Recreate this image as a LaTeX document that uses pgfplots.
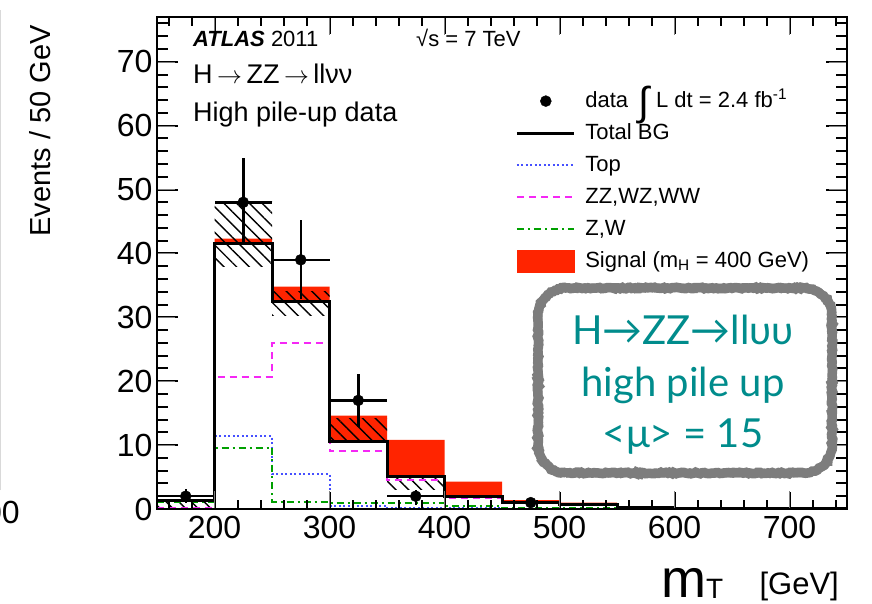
\documentclass[border=0pt]{standalone}
\usepackage{pgfplots}
\pgfplotsset{compat=1.18}
\usepackage{fontspec}
\setmainfont{Liberation Sans}
\newfontfamily\boxfont{Lato}
\usetikzlibrary{patterns.meta,decorations.pathmorphing}
\definecolor{sigred}{RGB}{255,36,0}
\definecolor{topblue}{RGB}{70,80,255}
\definecolor{dibmag}{RGB}{245,40,245}
\definecolor{zwgreen}{RGB}{0,160,0}
\definecolor{tealtxt}{RGB}{0,140,140}
\definecolor{boxgray}{RGB}{125,125,125}
\pgfplotsset{tickst/.style={black, line width=2pt, mark=none, forget plot}}
\newcommand{\arr}{\,{\fontsize{30}{30}\selectfont$\rightarrow$}\,}
\begin{document}
\begin{tikzpicture}
\path[use as bounding box] (0pt,0pt) rectangle (872pt,603pt);
\draw[gray!30, line width=1pt] (0.5pt,113pt) -- (0.5pt,593pt);
\node[anchor=base east, inner sep=0pt, font=\fontsize{32}{36}\selectfont] at (20pt,80pt) {00};
\begin{axis}[
  at={(157pt,94pt)}, anchor=south west,
  scale only axis, width=690pt, height=492pt,
  xmin=150, xmax=750, ymin=0, ymax=77,
  xtick={200,300,...,700},
  ytick={0,10,...,70},
  tick align=inside,
  axis on top,
  major tick length=18pt, minor tick length=9pt,
  axis line style={line width=2pt},
  tick label style={font=\fontsize{32}{36}\selectfont},
  /pgf/number format/assume math mode=true,
  xticklabel style={yshift=-4pt},
  yticklabel style={xshift=-1pt},
  legend style={draw=none, fill=none, at={(axis description cs:0.519,0.862)}, anchor=north west,
    font=\fontsize{22}{26}\selectfont, row sep=0pt, column sep=8pt, inner sep=0pt,
    nodes={inner sep=2pt, text height=20pt, text depth=8pt}},
  legend cell align=left,
  legend image code/.code={\draw[#1] (0pt,0pt) -- (57pt,0pt);},
]
\addlegendimage{black, legend image code/.code={\fill[black] (29pt,0pt) circle (5.5pt);}}
\addlegendentry{data\hspace{10pt}{\fontsize{40}{40}\selectfont\raisebox{-8pt}{∫}}\hspace{7pt}L dt = 2.4 fb\textsuperscript{-1}}
\addlegendimage{black, line width=3pt}
\addlegendentry{Total BG}
\addlegendimage{topblue, line width=2pt, dash pattern=on 2pt off 2.5pt}
\addlegendentry{Top}
\addlegendimage{dibmag, line width=2pt, dash pattern=on 7pt off 5pt}
\addlegendentry{ZZ,WZ,WW}
\addlegendimage{zwgreen, line width=2pt, dash pattern=on 7pt off 4pt on 2pt off 4pt}
\addlegendentry{Z,W}
\addlegendimage{sigred, legend image code/.code={\fill[sigred] (0pt,-11pt) rectangle (57pt,11pt);}}
\addlegendentry{Signal (m\textsubscript{H} = 400 GeV)}

% total BG + signal (red), then total BG area in white
\addplot[const plot, fill=sigred, draw=none, forget plot] coordinates {
 (150,1.3)(200,42.3)(250,34.8)(300,14.6)(350,10.8)(400,4.3)(450,1.4)(500,1.0)(550,0.35)(600,0.2)(650,0.3)(700,0.2)(750,0.2)} \closedcycle;
\addplot[const plot, fill=white, draw=none, forget plot] coordinates {
 (150,1.3)(200,41.5)(250,32.5)(300,10.6)(350,5.05)(400,1.9)(450,1.0)(500,0.7)(550,0.3)(600,0.15)(650,0.15)(700,0.1)(750,0.1)} \closedcycle;
% BG uncertainty (hatched)
\addplot[draw=none, pattern={Lines[angle=-45,distance=9pt,line width=1.4pt]}, forget plot] coordinates {(150,0)(200,0)(200,1.3)(150,1.3)};
\addplot[draw=none, pattern={Lines[angle=-45,distance=9pt,line width=1.4pt]}, forget plot] coordinates {(200,37.9)(250,37.9)(250,48.1)(200,48.1)};
\addplot[draw=none, pattern={Lines[angle=-45,distance=9pt,line width=1.4pt]}, forget plot] coordinates {(250,30.3)(300,30.3)(300,34.0)(250,34.0)};
\addplot[draw=none, pattern={Lines[angle=-45,distance=9pt,line width=1.4pt]}, forget plot] coordinates {(300,10.6)(350,10.6)(350,14.2)(300,14.2)};
\addplot[draw=none, pattern={Lines[angle=-45,distance=9pt,line width=1.4pt]}, forget plot] coordinates {(350,3.0)(400,3.0)(400,5.3)(350,5.3)};
% components
\addplot[const plot, topblue, line width=2pt, dash pattern=on 2pt off 2.5pt, forget plot] coordinates {
 (150,0.05)(200,11.4)(250,5.5)(300,0.5)(350,0.2)(400,0.1)(450,0.05)(500,0.05)(550,0.02)(600,0.02)(650,0.02)(700,0.02)(750,0.02)};
\addplot[const plot, dibmag, line width=2pt, dash pattern=on 7pt off 5pt, forget plot] coordinates {
 (150,0.15)(200,20.7)(250,26.0)(300,9.0)(350,4.6)(400,1.7)(450,0.9)(500,0.6)(550,0.25)(600,0.12)(650,0.12)(700,0.08)(750,0.08)};
\addplot[const plot, zwgreen, line width=2pt, dash pattern=on 7pt off 4pt on 2pt off 4pt, forget plot] coordinates {
 (150,1.1)(200,9.6)(250,1.15)(300,1.0)(350,1.0)(400,0.4)(450,0.1)(500,0.1)(550,0.05)(600,0.03)(650,0.03)(700,0.02)(750,0.02)};
\addplot[const plot, black, line width=3pt, forget plot] coordinates {
 (150,1.3)(200,41.5)(250,32.5)(300,10.6)(350,5.05)(400,1.9)(450,1.0)(500,0.7)(550,0.3)(600,0.15)(650,0.15)(700,0.1)(750,0.1)};
% data
\addplot[only marks, mark=*, mark size=5.5pt, black, forget plot,
  error bars/.cd, x dir=both, x explicit, y dir=both, y explicit, error mark=none,
  error bar style={line width=2.5pt, black}] coordinates {
 (175,2) += (25,1.1) -= (25,1.1)
 (225,48) += (25,7.0) -= (25,6.7)
 (275,39) += (25,6.3) -= (25,6.1)
 (325,17) += (25,4.1) -= (25,4.1)
 (375,2) += (25,1.0) -= (25,1.3)
 (475,1) += (25,0.6) -= (25,0.6)
};
% ROOT-style tick marks on all four sides, drawn through the axis
\pgfplotsinvokeforeach{160,180,...,740}{
  \addplot[tickst] coordinates {(#1,0) (#1,1.41)};
  \addplot[tickst] coordinates {(#1,77) (#1,75.59)};
}
\pgfplotsinvokeforeach{200,300,...,700}{
  \addplot[tickst] coordinates {(#1,0) (#1,2.66)};
  \addplot[tickst] coordinates {(#1,77) (#1,74.34)};
}
\pgfplotsinvokeforeach{2,4,...,76}{
  \addplot[tickst] coordinates {(150,#1) (159.6,#1)};
  \addplot[tickst] coordinates {(750,#1) (740.4,#1)};
}
\pgfplotsinvokeforeach{10,20,...,70}{
  \addplot[tickst] coordinates {(150,#1) (168.3,#1)};
  \addplot[tickst] coordinates {(750,#1) (731.7,#1)};
}
\end{axis}
% texts
\node[anchor=base west, inner sep=0pt, font=\fontsize{22}{26}\selectfont] at (193pt,556pt) {\textbf{\textit{ATLAS}} 2011};
\node[anchor=base west, inner sep=0pt, font=\fontsize{22}{26}\selectfont] at (416pt,556pt) {√s = 7 TeV};
\node[anchor=base west, inner sep=0pt, font=\fontsize{27}{32}\selectfont] at (193pt,519pt) {H\arr ZZ\arr llνν};
\node[anchor=base west, inner sep=0pt, font=\fontsize{27}{32}\selectfont] at (193pt,481pt) {High pile-up data};
\node[rotate=90, anchor=base east, inner sep=0pt, font=\fontsize{29}{32}\selectfont] at (50pt,578pt) {Events / 50 GeV};
\node[anchor=base east, inner sep=0pt, font=\fontsize{31}{36}\selectfont] at (839pt,9pt) {[GeV]};
\node[anchor=base west, inner sep=0pt] at (661pt,6pt) {\fontsize{54}{60}\selectfont m\fontsize{28}{28}\selectfont\raisebox{-1pt}{T}};
% annotation box
\def\boxpath{(566pt,130pt) -- (804pt,130pt) arc[start angle=-90,end angle=0,radius=28pt] -- (832pt,287pt) arc[start angle=0,end angle=90,radius=28pt] -- (566pt,315pt) arc[start angle=90,end angle=180,radius=28pt] -- (538pt,158pt) arc[start angle=180,end angle=270,radius=28pt] -- cycle}
\fill[white] \boxpath;
\draw[boxgray, line width=8.5pt] \boxpath;
\draw[boxgray, line width=9.5pt, decorate, decoration={random steps, segment length=2pt, amplitude=0.8pt}] \boxpath;
\node[tealtxt, anchor=base, inner sep=0pt, font=\boxfont\fontsize{40}{48}\selectfont] at (683pt,259pt) {H→ZZ→llυυ};
\node[tealtxt, anchor=base, inner sep=0pt, font=\boxfont\fontsize{40}{48}\selectfont] at (683pt,207pt) {high pile up};
\node[tealtxt, anchor=base, inner sep=0pt, font=\boxfont\fontsize{40}{48}\selectfont] at (683pt,156pt) {<μ> = 15};
\end{tikzpicture}
\end{document}
